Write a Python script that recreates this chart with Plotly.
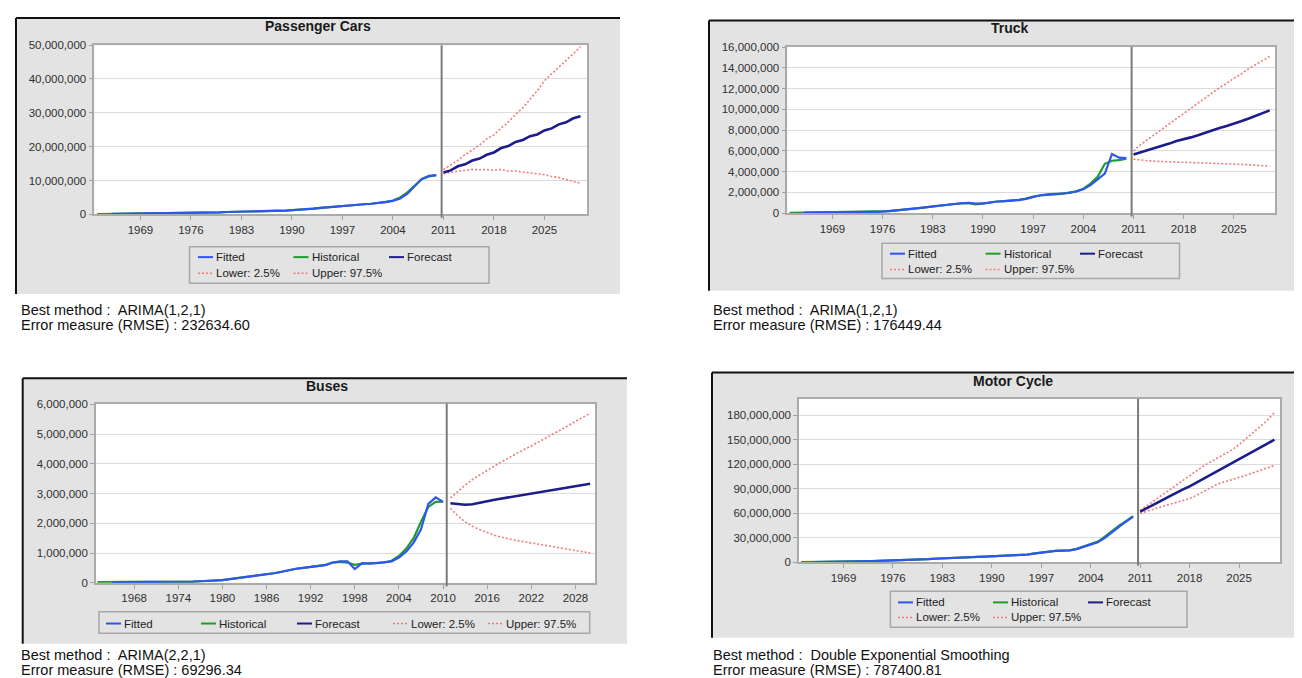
import plotly.graph_objects as go

# ---------------- data (values in millions of vehicles) ----------------
YEARS_HIST = list(range(1963, 2011))
YEARS_FIT = list(range(1965, 2011))
YEARS_FC = list(range(2011, 2031))

cars_hist = [0.10, 0.12, 0.14, 0.16, 0.18, 0.20, 0.22, 0.24, 0.26, 0.28,
             0.30, 0.33, 0.36, 0.40, 0.45, 0.50, 0.55, 0.62, 0.70, 0.78,
             0.85, 0.92, 0.98, 1.03, 1.08, 1.05, 1.10, 1.20, 1.35, 1.50,
             1.70, 1.90, 2.10, 2.35, 2.60, 2.75, 2.85, 3.00, 3.15, 3.35,
             3.70, 4.10, 5.00, 6.50, 8.50, 10.40, 11.20, 11.60]
cars_fit = [0.14, 0.16, 0.18, 0.20, 0.22, 0.24, 0.26, 0.28, 0.30, 0.32,
            0.35, 0.39, 0.44, 0.50, 0.56, 0.62, 0.70, 0.78, 0.86, 0.93,
            0.99, 1.04, 1.10, 1.09, 1.08, 1.18, 1.32, 1.48, 1.68, 1.90,
            2.10, 2.34, 2.60, 2.80, 2.88, 3.00, 3.15, 3.32, 3.62, 4.00,
            4.70, 6.10, 8.20, 10.50, 11.40, 11.60]
cars_fc = [12.4, 13.0, 14.2, 14.8, 15.9, 16.5, 17.6, 18.3, 19.6, 20.2,
           21.4, 22.0, 23.1, 23.6, 24.8, 25.4, 26.6, 27.2, 28.4, 29.0]
cars_up = [13.2, 14.5, 16.0, 17.6, 19.0, 20.5, 22.3, 23.5, 25.5, 27.3,
           29.5, 31.5, 34.0, 36.5, 39.5, 41.5, 43.5, 45.5, 47.5, 49.5]
cars_lo = [12.0, 12.5, 12.8, 13.0, 13.3, 13.2, 13.3, 13.0, 13.3, 12.8,
           12.8, 12.5, 12.3, 11.9, 11.7, 11.2, 10.9, 10.3, 9.8, 9.2]

truck_hist = [0.03, 0.04, 0.05, 0.05, 0.06, 0.06, 0.07, 0.07, 0.08, 0.09,
              0.10, 0.11, 0.12, 0.15, 0.20, 0.26, 0.32, 0.40, 0.48, 0.55,
              0.65, 0.75, 0.82, 0.88, 0.93, 0.97, 0.85, 0.95, 1.05, 1.12,
              1.15, 1.20, 1.28, 1.40, 1.60, 1.70, 1.78, 1.80, 1.85, 1.95,
              2.10, 2.35, 2.85, 3.50, 4.75, 5.05, 5.10, 5.25]
truck_fit = [0.05, 0.05, 0.06, 0.06, 0.07, 0.07, 0.08, 0.09, 0.10, 0.11,
             0.12, 0.14, 0.19, 0.26, 0.33, 0.40, 0.48, 0.56, 0.64, 0.74,
             0.84, 0.90, 0.95, 1.00, 0.92, 0.92, 1.04, 1.12, 1.16, 1.20,
             1.26, 1.38, 1.56, 1.72, 1.80, 1.83, 1.86, 1.94, 2.08, 2.30,
             2.70, 3.25, 3.80, 5.70, 5.35, 5.30]
truck_fc = [5.65, 5.85, 6.05, 6.25, 6.50, 6.70, 6.95, 7.10, 7.30, 7.50,
            7.75, 7.95, 8.20, 8.40, 8.60, 8.85, 9.10, 9.35, 9.60, 9.90]
truck_up = [6.0, 6.6, 7.1, 7.6, 8.1, 8.6, 9.1, 9.6, 10.1, 10.6,
            11.1, 11.6, 12.1, 12.5, 13.0, 13.4, 13.9, 14.3, 14.7, 15.1]
truck_lo = [5.20, 5.10, 5.05, 5.00, 4.98, 4.95, 4.92, 4.88, 4.85, 4.85,
            4.82, 4.80, 4.78, 4.75, 4.72, 4.70, 4.66, 4.62, 4.58, 4.52]

buses_hist = [0.02, 0.02, 0.02, 0.02, 0.02, 0.02, 0.02, 0.02, 0.02, 0.02,
              0.02, 0.02, 0.03, 0.04, 0.05, 0.06, 0.07, 0.09, 0.12, 0.15,
              0.18, 0.21, 0.24, 0.28, 0.32, 0.36, 0.42, 0.47, 0.50, 0.53,
              0.56, 0.60, 0.68, 0.70, 0.68, 0.60, 0.64, 0.65, 0.66, 0.68,
              0.74, 0.90, 1.15, 1.50, 2.05, 2.55, 2.72, 2.73]
buses_fit = [0.02, 0.02, 0.02, 0.02, 0.02, 0.02, 0.02, 0.02, 0.02, 0.02,
             0.03, 0.04, 0.05, 0.06, 0.07, 0.09, 0.12, 0.15, 0.18, 0.21,
             0.24, 0.28, 0.32, 0.37, 0.43, 0.47, 0.50, 0.53, 0.56, 0.59,
             0.68, 0.72, 0.72, 0.46, 0.66, 0.64, 0.66, 0.68, 0.72, 0.85,
             1.05, 1.35, 1.80, 2.65, 2.87, 2.72]
buses_fc = [2.67, 2.64, 2.62, 2.64, 2.68, 2.74, 2.79, 2.83, 2.88, 2.93,
            2.97, 3.00, 3.03, 3.07, 3.12, 3.16, 3.20, 3.24, 3.29, 3.33]
buses_up = [2.85, 3.07, 3.28, 3.47, 3.63, 3.78, 3.93, 4.07, 4.21, 4.35,
            4.48, 4.60, 4.73, 4.86, 5.00, 5.14, 5.28, 5.42, 5.56, 5.70]
buses_lo = [2.50, 2.25, 2.05, 1.90, 1.78, 1.68, 1.60, 1.53, 1.47, 1.42,
            1.38, 1.34, 1.30, 1.26, 1.22, 1.18, 1.14, 1.10, 1.05, 1.00]

moto_hist = [0.3, 0.35, 0.4, 0.45, 0.5, 0.55, 0.6, 0.8, 1.3, 1.5,
             1.7, 1.9, 2.1, 2.4, 2.8, 3.1, 3.3, 3.6, 4.1, 4.6,
             5.1, 5.5, 5.8, 6.1, 6.4, 6.7, 7.0, 7.4, 7.8, 8.0,
             8.3, 8.8, 9.7, 11.0, 12.2, 13.3, 14.0, 14.3, 14.8, 16.5,
             19.5, 22.0, 25.5, 31.5, 38.5, 45.0, 50.5, 56.5]
moto_fit = [0.4, 0.45, 0.5, 0.55, 0.6, 0.7, 1.1, 1.5, 1.7, 1.9,
            2.1, 2.35, 2.7, 3.05, 3.3, 3.55, 4.0, 4.5, 5.0, 5.45,
            5.8, 6.1, 6.4, 6.7, 7.0, 7.35, 7.75, 8.0, 8.25, 8.7,
            9.5, 10.7, 12.0, 13.2, 14.0, 14.4, 14.8, 16.2, 19.0, 21.5,
            24.5, 30.0, 37.0, 44.0, 50.0, 56.0]
moto_fc = [62.0, 66.2, 70.8, 75.5, 80.0, 84.8, 89.0, 92.8, 97.5, 102.5,
           107.5, 111.5, 116.5, 121.5, 126.0, 130.5, 135.0, 139.5, 145.0, 150.0]
moto_up = [63.5, 69.5, 75.5, 81.5, 87.5, 93.5, 100.0, 106.5, 112.5, 118.0,
           123.0, 127.5, 132.0, 137.5, 144.0, 151.0, 158.0, 166.0, 174.0, 183.0]
moto_lo = [60.0, 63.0, 65.5, 68.0, 70.5, 73.0, 75.5, 78.0, 82.0, 87.0,
           92.0, 96.0, 98.5, 101.0, 103.5, 106.5, 109.5, 112.5, 115.5, 118.5]

titles = ["Passenger Cars", "Truck", "Buses", "Motor Cycle"]
methods = ["ARIMA(1,2,1)", "ARIMA(1,2,1)", "ARIMA(2,2,1)", "Double Exponential Smoothing"]
rmse = ["232634.60", "176449.44", "69296.34", "787400.81"]
x_ticks_a = [1969, 1976, 1983, 1990, 1997, 2004, 2011, 2018, 2025]
x_ticks_b = [1968, 1974, 1980, 1986, 1992, 1998, 2004, 2010, 2016, 2022, 2028]
y_ticks_cars = [0, 10e6, 20e6, 30e6, 40e6, 50e6]
y_ticks_truck = [0, 2e6, 4e6, 6e6, 8e6, 10e6, 12e6, 14e6, 16e6]
y_ticks_buses = [0, 1e6, 2e6, 3e6, 4e6, 5e6, 6e6]
y_ticks_moto = [0, 30e6, 60e6, 90e6, 120e6, 150e6, 180e6]
legend_names = ["Fitted", "Historical", "Forecast", "Lower: 2.5%", "Upper: 97.5%"]

# ---------------- styling / geometry (pixels) ----------------
W, H = 1302, 678
FONT = "Liberation Sans, Arial, sans-serif"
C_FIT, C_HIST, C_FC, C_BND = "#2f55f0", "#1f9d2a", "#1c1c8a", "#f07a7a"
PANEL_BG = "#e3e3e3"
BOUND_DASH = "2px,2px"

panels = [
    dict(hist=cars_hist, fit=cars_fit, fc=cars_fc, up=cars_up, lo=cars_lo,
         xt=x_ticks_a, yt=y_ticks_cars, yr=[0, 50e6], xr=[1962.6, 2030.9], vline=2010.75,
         box=(8, 4, 612, 285), plot=(86.3, 31.7, 579, 204), title_xy=(310, 12.5),
         leg=(181.5, 237, 481, 274), rows=[247.5, 264], cols=[190, 285.5, 381],
         note=(11, 301.5, 316.8)),
    dict(hist=truck_hist, fit=truck_fit, fc=truck_fc, up=truck_up, lo=truck_lo,
         xt=x_ticks_a, yt=y_ticks_truck, yr=[0, 16.04e6], xr=[1962.7, 2030.8], vline=2010.74,
         box=(701, 6.7, 1302, 281.7), plot=(779.3, 33.3, 1267.4, 202.7), title_xy=(1001.7, 14.3),
         leg=(874, 233.3, 1171.5, 269.3), rows=[244, 260], cols=[882, 977.5, 1072],
         note=(703.4, 301.5, 316.8)),
    dict(hist=buses_hist, fit=buses_fit, fc=buses_fc, up=buses_up, lo=buses_lo,
         xt=x_ticks_b, yt=y_ticks_buses, yr=[0, 6.02e6], xr=[1962.8, 2030.7], vline=2010.5,
         box=(14.7, 370.7, 619, 641), plot=(87.9, 396.7, 587.3, 579), title_xy=(318.8, 378.3),
         leg=(91, 608.5, 581.7, 630.5), rows=[620.5], cols=[98, 193, 289, 385, 480],
         note=(11, 653, 668)),
    dict(hist=moto_hist, fit=moto_fit, fc=moto_fc, up=moto_up, lo=moto_lo,
         xt=x_ticks_a, yt=y_ticks_moto, yr=[0, 199.9e6], xr=[1962.7, 2030.85], vline=2010.7,
         box=(704, 365, 1302, 635), plot=(791, 391.7, 1272.4, 558.3), title_xy=(1005.4, 373.3),
         leg=(882.4, 587.7, 1179, 624.3), rows=[599, 614.3], cols=[890, 985, 1080],
         note=(703.4, 653, 668)),
]


def px(x):
    return x / W


def py(y):
    return 1 - y / H


fig = go.Figure()
shapes, annotations = [], []
layout_axes = {}

for i, p in enumerate(panels):
    n = "" if i == 0 else str(i + 1)
    xa, ya = "x" + n, "y" + n
    M = 1e6
    series = [
        (YEARS_HIST, p["hist"], C_HIST, 2.2, "solid", "Historical"),
        (YEARS_FIT, p["fit"], C_FIT, 2.2, "solid", "Fitted"),
        (YEARS_FC, p["up"], C_BND, 1.6, BOUND_DASH, "Upper: 97.5%"),
        (YEARS_FC, p["lo"], C_BND, 1.6, BOUND_DASH, "Lower: 2.5%"),
        (YEARS_FC, p["fc"], C_FC, 2.6, "solid", "Forecast"),
    ]
    for xs, vals, col, w, dash, name in series:
        fig.add_trace(go.Scatter(
            x=xs, y=[v * M for v in vals], mode="lines", name=name,
            line=dict(color=col, width=w, dash=dash), showlegend=False,
            xaxis=xa, yaxis=ya, hoverinfo="x+y+name"))

    l, t, r, b = p["plot"]
    layout_axes["xaxis" + n] = dict(
        domain=[px(l), px(r)], range=p["xr"], anchor=ya,
        tickvals=p["xt"], ticktext=[str(v) for v in p["xt"]],
        ticks="outside", ticklen=4, tickcolor="#a0a0a0",
        showgrid=False, zeroline=False, showline=True, mirror=True,
        linecolor="#ababab", linewidth=1.5,
        tickfont=dict(family=FONT, size=11.5, color="#303030"), fixedrange=True)
    layout_axes["yaxis" + n] = dict(
        domain=[py(b), py(t)], range=p["yr"], anchor=xa,
        tickvals=p["yt"], tickformat=",d",
        ticks="outside", ticklen=4, tickcolor="#a0a0a0",
        showgrid=True, gridcolor="#dcdcdc", gridwidth=1, zeroline=False,
        showline=True, mirror=True, linecolor="#ababab", linewidth=1.5,
        tickfont=dict(family=FONT, size=11.5, color="#303030"), fixedrange=True)

    # gray panel + white plot area (drawn under everything)
    bl, bt, br, bb = p["box"]
    shapes.append(dict(type="rect", xref="paper", yref="paper", layer="below",
                       x0=px(bl), x1=px(br), y0=py(bb), y1=py(bt),
                       fillcolor=PANEL_BG, line=dict(width=0)))
    shapes.append(dict(type="rect", xref="paper", yref="paper", layer="below",
                       x0=px(l), x1=px(r), y0=py(b), y1=py(t),
                       fillcolor="white", line=dict(width=0)))
    # dark top/left border of the panel
    shapes.append(dict(type="line", xref="paper", yref="paper",
                       x0=px(bl), x1=px(bl), y0=py(bb), y1=py(bt),
                       line=dict(color="#111111", width=2)))
    shapes.append(dict(type="line", xref="paper", yref="paper",
                       x0=px(bl), x1=px(br), y0=py(bt), y1=py(bt),
                       line=dict(color="#111111", width=2)))
    # forecast-origin marker
    shapes.append(dict(type="line", xref=xa, yref=ya + " domain",
                       x0=p["vline"], x1=p["vline"], y0=-0.02, y1=1.0,
                       line=dict(color="#7a7a7a", width=2)))

    # title
    annotations.append(dict(text="<b>" + titles[i] + "</b>", xref="paper", yref="paper",
                            x=px(p["title_xy"][0]), y=py(p["title_xy"][1]),
                            xanchor="center", yanchor="middle", showarrow=False,
                            font=dict(family=FONT, size=14, color="#1a1a1a")))

    # legend box
    ll, lt, lr, lb = p["leg"]
    shapes.append(dict(type="rect", xref="paper", yref="paper",
                       x0=px(ll), x1=px(lr), y0=py(lb), y1=py(lt),
                       fillcolor=PANEL_BG, line=dict(color="#a8a8a8", width=1.5)))
    entries = [("Fitted", C_FIT, "solid", 2), ("Historical", C_HIST, "solid", 2),
               ("Forecast", C_FC, "solid", 2), ("Lower: 2.5%", C_BND, BOUND_DASH, 1.5),
               ("Upper: 97.5%", C_BND, BOUND_DASH, 1.5)]
    ncol = len(p["cols"])
    for k, (name, col, dash, w) in enumerate(entries):
        row, c = divmod(k, ncol)
        x0 = p["cols"][c]
        yy = p["rows"][row]
        shapes.append(dict(type="line", xref="paper", yref="paper",
                           x0=px(x0), x1=px(x0 + 15), y0=py(yy), y1=py(yy),
                           line=dict(color=col, width=w, dash=dash)))
        annotations.append(dict(text=name, xref="paper", yref="paper",
                                x=px(x0 + 16), y=py(yy), xanchor="left", yanchor="middle",
                                showarrow=False,
                                font=dict(family=FONT, size=11.5, color="#222222")))

    # notes under the chart
    nx, ny1, ny2 = p["note"]
    annotations.append(dict(text="Best method :  " + methods[i], xref="paper", yref="paper",
                            x=px(nx), y=py(ny1), xanchor="left", yanchor="middle",
                            showarrow=False, font=dict(family=FONT, size=14.5, color="#111111")))
    annotations.append(dict(text="Error measure (RMSE) : " + rmse[i], xref="paper", yref="paper",
                            x=px(nx), y=py(ny2), xanchor="left", yanchor="middle",
                            showarrow=False, font=dict(family=FONT, size=14.5, color="#111111")))

fig.update_layout(
    width=W, height=H, margin=dict(l=0, r=0, t=0, b=0),
    paper_bgcolor="white", plot_bgcolor="white",
    showlegend=False, shapes=shapes, annotations=annotations,
    font=dict(family=FONT), **layout_axes)

fig.write_html("out.html")
